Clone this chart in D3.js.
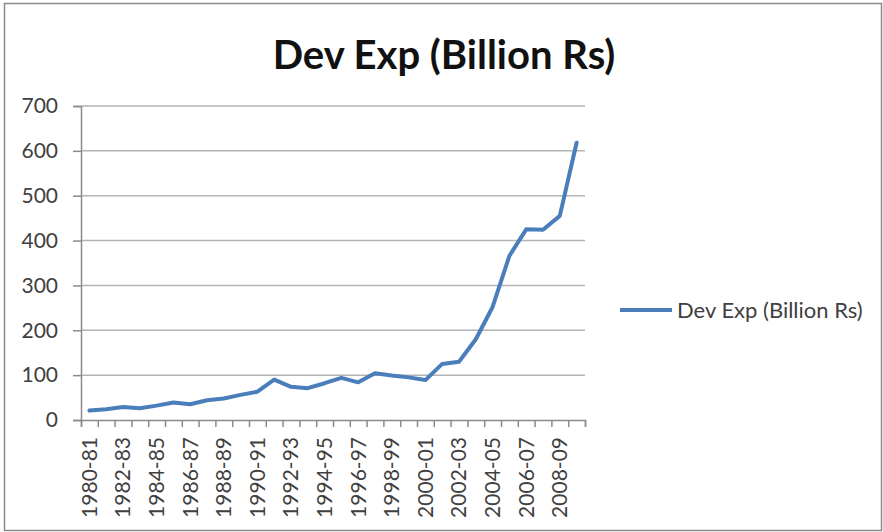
<!DOCTYPE html>
<html>
<head>
<meta charset="utf-8">
<script src="https://cdn.jsdelivr.net/npm/d3@7"></script>
<style>
  html, body { margin: 0; padding: 0; background: #fff; }
  svg { display: block; }
  text { font-family: Lato, "Open Sans", sans-serif; }
</style>
</head>
<body>
<svg id="chart" width="883" height="532"></svg>
<script>
// Development expenditure by fiscal year, billion rupees
const years = [
  "1980-81", "1981-82", "1982-83", "1983-84", "1984-85", "1985-86",
  "1986-87", "1987-88", "1988-89", "1989-90", "1990-91", "1991-92",
  "1992-93", "1993-94", "1994-95", "1995-96", "1996-97", "1997-98",
  "1998-99", "1999-00", "2000-01", "2001-02", "2002-03", "2003-04",
  "2004-05", "2005-06", "2006-07", "2007-08", "2008-09", "2009-10"
];
const devExp = [
  21, 24, 29, 26, 32, 39, 35, 44, 48, 56, 63, 90,
  74, 71, 82, 94, 84, 104, 99, 95, 89, 125, 130, 180,
  252, 366, 425, 424, 455, 618
];
const yTicks = [0, 100, 200, 300, 400, 500, 600, 700];
const seriesName = "Dev Exp (Billion Rs)";
const chartTitle = "Dev Exp (Billion Rs)";

const svg = d3.select("#chart");
const plot = { left: 81, right: 585, top: 106, bottom: 420 };

// outer chart frame
svg.append("rect")
  .attr("x", 4.5).attr("y", 3.5)
  .attr("width", 877).attr("height", 527)
  .attr("fill", "#fff")
  .attr("stroke", "#8a8a8a")
  .attr("stroke-width", 1.5);

const x = d3.scaleBand().domain(years).range([plot.left, plot.right]).padding(0);
const xEdge = d3.scaleLinear().domain([0, years.length]).range([plot.left, plot.right]);
const y = d3.scaleLinear().domain([0, 700]).range([plot.bottom, plot.top]);

// horizontal gridlines
svg.append("g")
  .selectAll("line")
  .data(yTicks.filter(d => d > 0))
  .join("line")
  .attr("x1", plot.left).attr("x2", plot.right)
  .attr("y1", d => y(d)).attr("y2", d => y(d))
  .attr("stroke", "#b3b3b3")
  .attr("stroke-width", 1.5);

// y axis
const yAxis = svg.append("g")
  .attr("transform", `translate(${plot.left},0)`)
  .call(d3.axisLeft(y).tickValues(yTicks).tickSize(8).tickPadding(15));
yAxis.select(".domain").attr("stroke", "#8a8a8a").attr("stroke-width", 1.5);
yAxis.selectAll(".tick line").attr("stroke", "#8a8a8a").attr("stroke-width", 1.5);
yAxis.selectAll(".tick text")
  .attr("fill", "#404040")
  .style("font-size", "21px");

// x axis: tick marks on category boundaries
const xTickAxis = svg.append("g")
  .attr("transform", `translate(0,${plot.bottom})`)
  .call(d3.axisBottom(xEdge).tickValues(d3.range(0, years.length + 1)).tickSize(7).tickFormat(""));
xTickAxis.select(".domain").attr("stroke", "#8a8a8a").attr("stroke-width", 1.5);
xTickAxis.selectAll(".tick line").attr("stroke", "#8a8a8a").attr("stroke-width", 1.5);

// x axis: rotated labels on every other category
const xLabelAxis = svg.append("g")
  .attr("transform", `translate(0,${plot.bottom})`)
  .call(d3.axisBottom(x).tickValues(years.filter((d, i) => i % 2 === 0)).tickSize(0));
xLabelAxis.select(".domain").remove();
xLabelAxis.selectAll(".tick text")
  .attr("transform", "rotate(-90)")
  .attr("text-anchor", "end")
  .attr("x", -17)
  .attr("y", 0)
  .attr("dy", "0.35em")
  .attr("fill", "#404040")
  .style("font-size", "21px");

// data line
const line = d3.line()
  .x((d, i) => x(years[i]) + x.bandwidth() / 2)
  .y(d => y(d));

svg.append("path")
  .datum(devExp)
  .attr("fill", "none")
  .attr("stroke", "#4a7ebb")
  .attr("stroke-width", 4)
  .attr("stroke-linejoin", "round")
  .attr("stroke-linecap", "round")
  .attr("d", line);

// title
svg.append("text")
  .attr("x", 444).attr("y", 69)
  .attr("text-anchor", "middle")
  .attr("fill", "#111")
  .style("font-size", "40px")
  .style("font-weight", "700")
  .text(chartTitle);

// legend
const legend = svg.append("g").attr("transform", "translate(620,310)");
legend.append("line")
  .attr("x1", 0).attr("x2", 52)
  .attr("y1", 0).attr("y2", 0)
  .attr("stroke", "#4a7ebb")
  .attr("stroke-width", 4);
legend.append("text")
  .attr("x", 57).attr("y", 0)
  .attr("dy", "0.35em")
  .attr("fill", "#404040")
  .style("font-size", "22px")
  .text(seriesName);
</script>
</body>
</html>
